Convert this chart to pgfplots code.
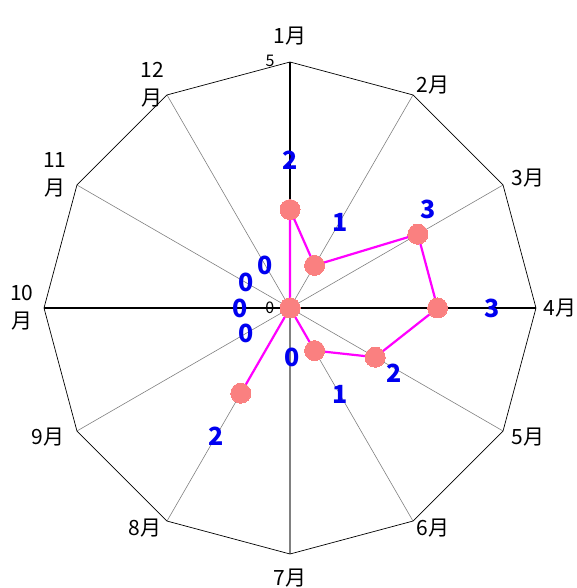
\documentclass[border=0pt]{standalone}
\usepackage{pgfplots}
\pgfplotsset{compat=1.18}
\usepgfplotslibrary{polar}
\usepackage{fontspec}
\setmainfont{Noto Sans CJK JP}
\definecolor{mag}{RGB}{255,0,255}
\definecolor{salmon}{RGB}{250,128,128}
\definecolor{vblue}{RGB}{0,0,240}
\begin{document}
\begin{tikzpicture}
\begin{polaraxis}[
  width=492pt,height=492pt,scale only axis,
  hide axis, clip=false,
  xmin=0,xmax=360,ymin=0,ymax=5,
  xtick=\empty, ytick=\empty,
  every node/.append style={inner sep=0pt},
]
\coordinate (O) at (axis cs:0,0);
% spokes
\addplot[gray, line width=0.6pt] coordinates {(60,0)(60,5)};
\addplot[gray, line width=0.6pt] coordinates {(30,0)(30,5)};
\addplot[gray, line width=0.6pt] coordinates {(330,0)(330,5)};
\addplot[gray, line width=0.6pt] coordinates {(300,0)(300,5)};
\addplot[gray, line width=0.6pt] coordinates {(240,0)(240,5)};
\addplot[gray, line width=0.6pt] coordinates {(210,0)(210,5)};
\addplot[gray, line width=0.6pt] coordinates {(150,0)(150,5)};
\addplot[gray, line width=0.6pt] coordinates {(120,0)(120,5)};
\addplot[gray, line width=1.3pt] coordinates {(270,0)(270,5)};
\addplot[black, line width=1.3pt] coordinates {(90,0)(90,5)};
\addplot[black, line width=1.3pt] coordinates {(0,0)(0,5)};
\addplot[black, line width=1.3pt] coordinates {(180,0)(180,5)};
% outer polygon
\addplot[black, line width=0.7pt] coordinates {(90,5)(60,5)(30,5)(0,5)(330,5)(300,5)(270,5)(240,5)(210,5)(180,5)(150,5)(120,5)(90,5)};
% data
\addplot[mag, line width=2.2pt, mark=*, mark size=10pt, mark options={fill=salmon, draw=salmon, line width=0pt}]
  coordinates {(90,2)(60,1)(30,3)(0,3)(330,2)(300,1)(270,0)(240,2)(210,0)(180,0)(150,0)(120,0)(90,2)};
% value labels
\begin{scope}[every node/.style={text=vblue, font=\bfseries\fontsize{25}{25}\selectfont, inner sep=0pt}]
\node at (axis cs:90,3) {2};
\node at (axis cs:60,2.02) {1};
\node at (axis cs:35.6,3.45) {3};
\node at (axis cs:0,4.1) {3};
\node at (axis cs:328,2.5) {2};
\node at (axis cs:300,2.02) {1};
\node at (axis cs:272,1) {0};
\node at (axis cs:240,3.02) {2};
\node at (axis cs:210,1.03) {0};
\node at (axis cs:180,1.02) {0};
\node at (axis cs:150,1.03) {0};
\node at (axis cs:120,1.01) {0};
\end{scope}
% tick labels
\begin{scope}[every node/.style={font=\fontsize{16}{16}\selectfont, inner sep=0pt}]
\node at (axis cs:94.6,5.03) {5};
\node at (axis cs:180,0.41) {0};
\end{scope}
% month labels
\begin{scope}[every node/.style={font=\fontsize{21}{28}\selectfont, align=center, inner sep=0pt}]
\node at (axis cs:90,5.53) {1月};
\node at (axis cs:57.3,5.38) {2月};
\node at (axis cs:28.6,5.51) {3月};
\node at (axis cs:0,5.49) {4月};
\node at (axis cs:331.5,5.5) {5月};
\node at (axis cs:303,5.33) {6月};
\node at (axis cs:270,5.49) {7月};
\node at (axis cs:236.6,5.36) {8月};
\node at (axis cs:208.1,5.57) {9月};
\node at (axis cs:180,5.45) {10\\月};
\node at (axis cs:150.5,5.49) {11\\月};
\node at (axis cs:121.7,5.33) {12\\月};
\end{scope}
\end{polaraxis}
\pgfresetboundingbox
\path (O) ++(-290pt,-280pt) rectangle ++(576pt,588pt);
\end{tikzpicture}
\end{document}
